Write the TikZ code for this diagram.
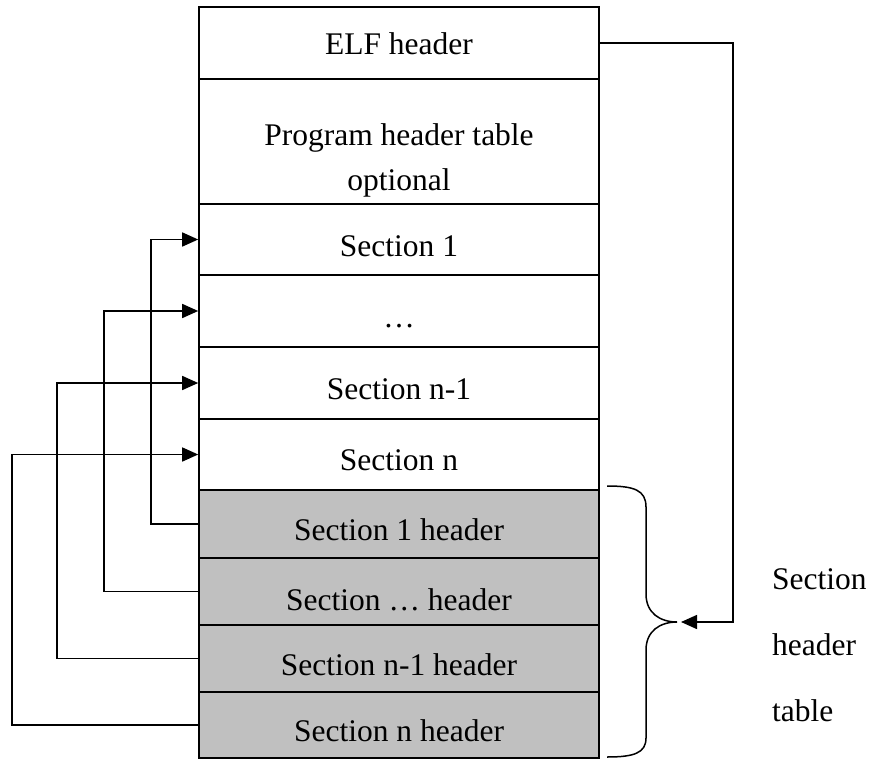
\documentclass[tikz,border=0pt]{standalone}
\usepackage{fontspec}
\setmainfont{Liberation Serif}
\usetikzlibrary{arrows.meta}
\definecolor{hdrgray}{RGB}{192,192,192}
\tikzset{
  row/.style={draw, line width=1.6pt, minimum width=400pt, inner sep=0pt},
  hdr/.style={row, fill=hdrgray},
  txt/.style={inner sep=0pt, align=center, font={\fontsize{31.5}{45}\selectfont}},
  link/.style={line width=1.5pt, -{Triangle[length=16pt,width=14pt]}},
  plain/.style={line width=1.5pt},
}
\begin{document}
\begin{tikzpicture}[x=1pt,y=-1pt]
\useasboundingbox (0,0) rectangle (874,759);
% file layout, top to bottom
\node[row, minimum height=72pt]  (elf)  at (399,43)    {};
\node[row, minimum height=125pt] (prog) at (399,141.5) {};
\node[row, minimum height=71pt]  (s1)   at (399,239.5) {};
\node[row, minimum height=72pt]  (sd)   at (399,311)   {};
\node[row, minimum height=72pt]  (sm)   at (399,383)   {};
\node[row, minimum height=71pt]  (sn)   at (399,454.5) {};
% section header table
\node[hdr, minimum height=68pt]  (h1)   at (399,524)   {};
\node[hdr, minimum height=67pt]  (hd)   at (399,591.5) {};
\node[hdr, minimum height=67pt]  (hm)   at (399,658.5) {};
\node[hdr, minimum height=66pt]  (hn)   at (399,725)   {};
% row texts
\node[txt] (elft)  at ([yshift=-1pt]elf.center)  {ELF header};
\node[txt] (progt) at ([yshift=-19pt]prog.center) {Program header table\\optional};
\node[txt] (s1t)   at ([yshift=-7pt]s1.center)   {Section 1};
\node[txt] (sdt)   at ([yshift=-7pt]sd.center)   {\strut…};
\node[txt] (smt)   at ([yshift=-6pt]sm.center)   {Section n-1};
\node[txt] (snt)   at ([yshift=-6pt]sn.center)   {Section n};
\node[txt] (h1t)   at ([yshift=-6pt]h1.center)   {Section 1 header};
\node[txt] (hdt)   at ([yshift=-8pt]hd.center)   {Section … header};
\node[txt] (hmt)   at ([yshift=-6pt]hm.center)   {Section n-1 header};
\node[txt] (hnt)   at ([yshift=-6pt]hn.center)   {Section n header};
% each header points back to its section
\draw[link] (h1.west) -| ([xshift=-47pt]s1.west) -- (s1.west);
\draw[link] (hd.west) -| ([xshift=-94pt]sd.west) -- (sd.west);
\draw[link] (hm.west) -| ([xshift=-141pt]sm.west) -- (sm.west);
\draw[link] (hn.west) -| ([xshift=-186pt]sn.west) -- (sn.west);
% brace around the header table
\coordinate (tip) at (677,622);
\draw[plain] (607,486) .. controls (634,486) and (646,490) .. (646,507) -- (646,594)
  .. controls (646,613) and (660,622) .. (tip)
  .. controls (660,622) and (646,631) .. (646,650) -- (646,738)
  .. controls (646,753) and (634,757) .. (607,757);
% ELF header refers to the header table
\draw[link] (elf.east) -- ++(133,0) |- ([xshift=4pt]tip);
\node[anchor=west, align=left, inner sep=0pt, font={\fontsize{31.5}{66}\selectfont}]
  (lbl) at (772,645) {Section\\header\\table};
\end{tikzpicture}
\end{document}
